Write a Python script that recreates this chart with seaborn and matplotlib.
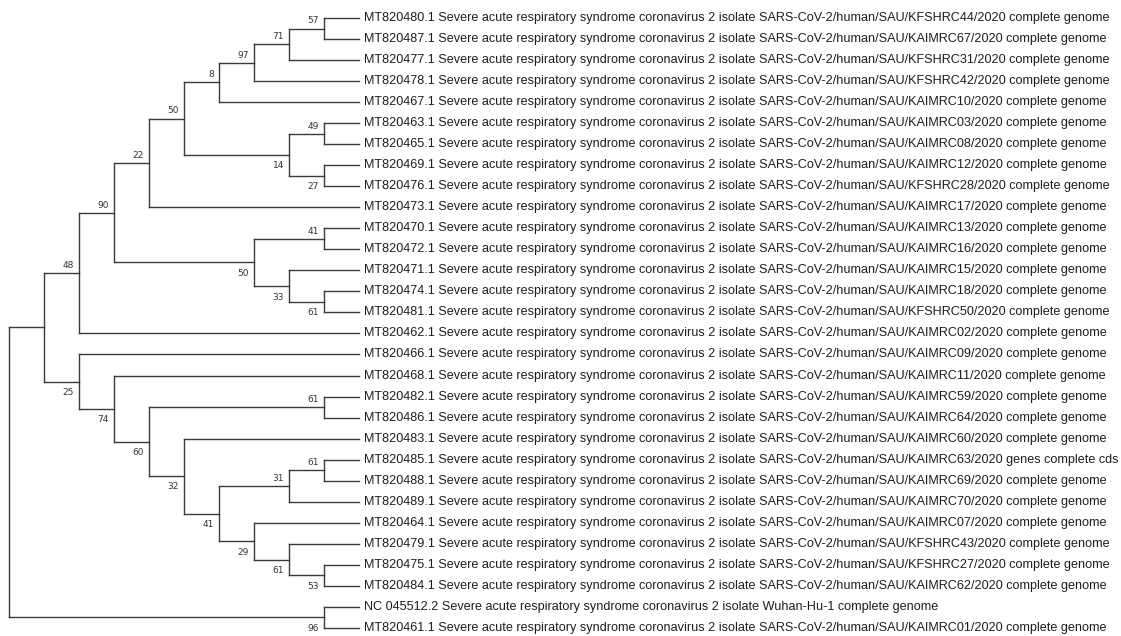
import numpy as np
import pandas as pd
import matplotlib
matplotlib.use("Agg")
import matplotlib.pyplot as plt
import seaborn as sns

# tree topology (Newick, tips are accession keys, internal labels = bootstrap support)
tree_newick = (
    "((((((((((480,487)57,477)71,478)97,467)8,((463,465)49,(469,476)27)14)50,473)22,"
    "((470,472)41,(471,(474,481)61)33)50)90,462)48,"
    "(466,(468,((482,486)61,(483,(((485,488)61,489)31,(464,(479,(475,484)53)61)29)41)32)60)74)25),"
    "(NC,461)96);"
)

# accession key -> isolate name
isolate_keys = ["480", "487", "477", "478", "467", "463", "465", "469", "476", "473",
                "470", "472", "471", "474", "481", "462", "466", "468", "482", "486",
                "483", "485", "488", "489", "464", "479", "475", "484", "461"]
isolate_names = ["KFSHRC44", "KAIMRC67", "KFSHRC31", "KFSHRC42", "KAIMRC10", "KAIMRC03",
                 "KAIMRC08", "KAIMRC12", "KFSHRC28", "KAIMRC17", "KAIMRC13", "KAIMRC16",
                 "KAIMRC15", "KAIMRC18", "KFSHRC50", "KAIMRC02", "KAIMRC09", "KAIMRC11",
                 "KAIMRC59", "KAIMRC64", "KAIMRC60", "KAIMRC63", "KAIMRC69", "KAIMRC70",
                 "KAIMRC07", "KFSHRC43", "KFSHRC27", "KAIMRC62", "KAIMRC01"]

label_overrides = {
    "NC": "NC 045512.2 Severe acute respiratory syndrome coronavirus 2 isolate Wuhan-Hu-1 complete genome",
    "485": "MT820485.1 Severe acute respiratory syndrome coronavirus 2 isolate "
           "SARS-CoV-2/human/SAU/KAIMRC63/2020 genes complete cds",
}


def tip_label(key):
    if key in label_overrides:
        return label_overrides[key]
    iso = isolate_names[isolate_keys.index(key)]
    return (f"MT820{key}.1 Severe acute respiratory syndrome coronavirus 2 isolate "
            f"SARS-CoV-2/human/SAU/{iso}/2020 complete genome")


def parse_newick(s):
    pos = 0

    def read_label():
        nonlocal pos
        start = pos
        while s[pos] not in ",();":
            pos += 1
        return s[start:pos]

    def node():
        nonlocal pos
        if s[pos] == "(":
            pos += 1
            kids = [node()]
            while s[pos] == ",":
                pos += 1
                kids.append(node())
            pos += 1
            return {"kids": kids, "support": read_label()}
        return {"name": read_label()}

    return node()


root = parse_newick(tree_newick)

# cladogram layout: tips in order, internal nodes placed by height
tips = []


def layout(n):
    if "kids" not in n:
        n["y"] = len(tips)
        n["h"] = 0
        tips.append(n)
        return
    for k in n["kids"]:
        layout(k)
    n["h"] = 1 + max(k["h"] for k in n["kids"])
    n["y"] = (n["kids"][0]["y"] + n["kids"][-1]["y"]) / 2


layout(root)
H = root["h"]

rows = []
supports = []


def collect(n, seg=[0]):
    if "kids" not in n:
        return
    x = H - n["h"]
    seg[0] += 1
    rows.append((seg[0], x, n["kids"][0]["y"]))
    rows.append((seg[0], x, n["kids"][-1]["y"]))
    for i, k in enumerate(n["kids"]):
        seg[0] += 1
        rows.append((seg[0], x, k["y"]))
        rows.append((seg[0], H - k["h"], k["y"]))
        if "kids" in k and k["support"]:
            supports.append((H - k["h"], k["y"], k["support"], i == 0))
        collect(k, seg)


collect(root)
segs = pd.DataFrame(rows, columns=["seg", "x", "y"])

fig = plt.figure(figsize=(11.21, 6.36), dpi=100)
ax = fig.add_axes([0, 0, 1, 1])
sns.lineplot(data=segs, x="x", y="y", units="seg", estimator=None, sort=False,
             color="#3a3a3a", lw=1.0, ax=ax)

for t in tips:
    ax.annotate(tip_label(t["name"]), (H, t["y"]), xytext=(3.6, 0), textcoords="offset points",
                ha="left", va="center", fontsize=9.12, family="Liberation Sans", color="#1e1e1e")

for x, y, s, upper in supports:
    ax.annotate(s, (x, y), xytext=(-3.6, 2.2 if upper else -4.6), textcoords="offset points",
                ha="right", va="bottom" if upper else "top", fontsize=6.5,
                family="DejaVu Sans", color="#333333")

# pixel mapping: root at 9px, 35px per level; first tip at 18px, ~21px per row
ax.set_xlim(-9 / 35, (1121 - 9) / 35)
ax.set_ylim((636 - 18) / 21.03, -18 / 21.03)
ax.axis("off")

fig.savefig("out.png", dpi=100)
